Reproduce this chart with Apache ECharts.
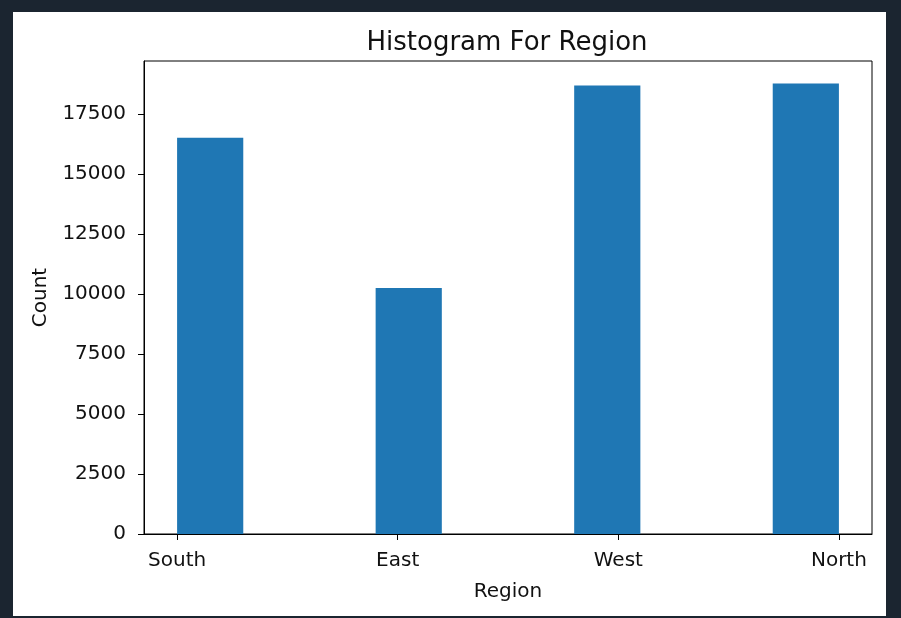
<!DOCTYPE html>
<html>
<head>
<meta charset="utf-8">
<script src="https://cdn.jsdelivr.net/npm/echarts@6/dist/echarts.min.js"></script>
<style>
  html, body { margin: 0; padding: 0; background: #1b2530; width: 901px; height: 618px; overflow: hidden; }
  #chart { position: absolute; left: 13px; top: 12px; width: 873px; height: 604px; background: #ffffff; }
</style>
</head>
<body>
<div id="chart"></div>
<script>
// Data
const regions = ['South', 'East', 'West', 'North'];
const regionPositions = [0, 1, 2, 3];
const binStarts = [0, 0.9, 1.8, 2.7];
const binEnds = [0.3, 1.2, 2.1, 3.0];
const counts = [16500, 10250, 18680, 18760];
const yTicks = [0, 2500, 5000, 7500, 10000, 12500, 15000, 17500];

const chart = echarts.init(document.getElementById('chart'), null, { renderer: 'canvas' });
const font = 'DejaVu Sans';

const seriesData = binStarts.map((s, i) => [s, binEnds[i], counts[i]]);

const option = {
  animation: false,
  backgroundColor: '#ffffff',
  title: {
    text: 'Histogram For Region',
    left: 489, top: 13, textAlign: 'center',
    textStyle: { fontFamily: font, fontSize: 26, fontWeight: 'normal', color: '#111' }
  },
  grid: {
    left: 131, right: 14, top: 49, bottom: 82,
    show: true, borderColor: '#000', borderWidth: 1, backgroundColor: 'transparent'
  },
  xAxis: {
    type: 'value', min: -0.15, max: 3.15,
    name: 'Region', nameLocation: 'middle', nameGap: 48,
    nameTextStyle: { fontFamily: font, fontSize: 20, color: '#111' },
    axisLine: { show: true, onZero: false, lineStyle: { color: '#000', width: 1 } },
    axisTick: { show: true, inside: false, length: 6, customValues: regionPositions, lineStyle: { color: '#000' } },
    axisLabel: {
      customValues: regionPositions,
      formatter: v => regions[Math.round(v)],
      fontFamily: font, fontSize: 20, color: '#111', margin: 17
    },
    splitLine: { show: false }
  },
  yAxis: {
    type: 'value', min: 0, max: 19700,
    name: 'Count', nameLocation: 'middle', nameGap: 93,
    nameTextStyle: { fontFamily: font, fontSize: 20, color: '#111' },
    axisLine: { show: true, onZero: false, lineStyle: { color: '#000', width: 1 } },
    axisTick: { show: true, inside: false, length: 6, customValues: yTicks, lineStyle: { color: '#000' } },
    axisLabel: {
      customValues: yTicks,
      formatter: v => String(v),
      fontFamily: font, fontSize: 20, color: '#111', margin: 18
    },
    splitLine: { show: false }
  },
  series: [{
    type: 'custom',
    data: seriesData,
    encode: { x: [0, 1], y: 2 },
    renderItem: function (params, api) {
      const p0 = api.coord([api.value(0), 0]);
      const p1 = api.coord([api.value(1), api.value(2)]);
      return {
        type: 'rect',
        shape: { x: p0[0], y: p1[1], width: p1[0] - p0[0], height: p0[1] - p1[1] },
        style: { fill: '#1f77b4' }
      };
    }
  }]
};
chart.setOption(option);
</script>
</body>
</html>
